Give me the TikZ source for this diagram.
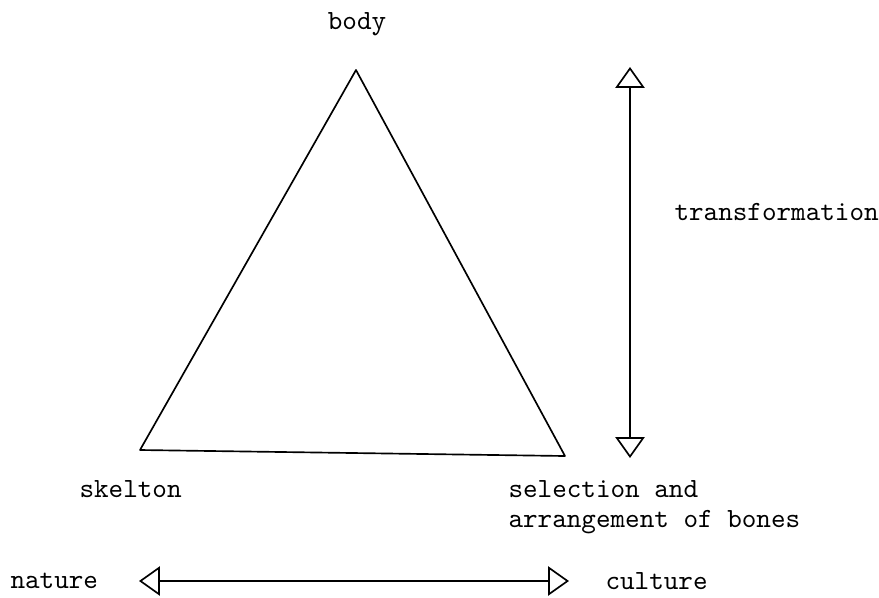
\documentclass[tikz,border=0pt]{standalone}
\usepackage{tikz}
\usetikzlibrary{arrows.meta,positioning}

\begin{document}
\begin{tikzpicture}[
 x=0.36pt,y=-0.36pt,
 every node/.style={font=\ttfamily},
 lbl/.style={inner sep=0pt,anchor=west},
 side/.style={semithick,line join=round},
 twoway/.style={{Triangle[open,length=7.5pt,width=10.5pt]}-{Triangle[open,length=7.5pt,width=10.5pt]},semithick}
]
\useasboundingbox (0,0) rectangle (879,597);

% triangle
\coordinate (top) at (356,70);
\coordinate (left) at (140,450);
\coordinate (right) at (565,456);
\draw[side] (top)--(left)--(right)--cycle;

\node[inner sep=0pt] (body) at (357,24) {body};
\node[lbl] (skel) at (79,489) {skelton};
\node[lbl] (sel) at (508,489) {selection and};
\node[lbl] (arr) at (508,522) {arrangement of bones};

% transformation arrow
\coordinate (up) at (630,67);
\coordinate (down) at (630,458);
\draw[twoway] (up)--(down);
\node[lbl] (trans) at (674,212) {transformation};

% nature / culture
\node[lbl] (nat) at (10,581) {nature};
\node[lbl] (cult) at (605,581) {culture};
\coordinate (west) at (139,581);
\coordinate (east) at (569,581);
\draw[twoway] (west)--(east);
\end{tikzpicture}
\end{document}
